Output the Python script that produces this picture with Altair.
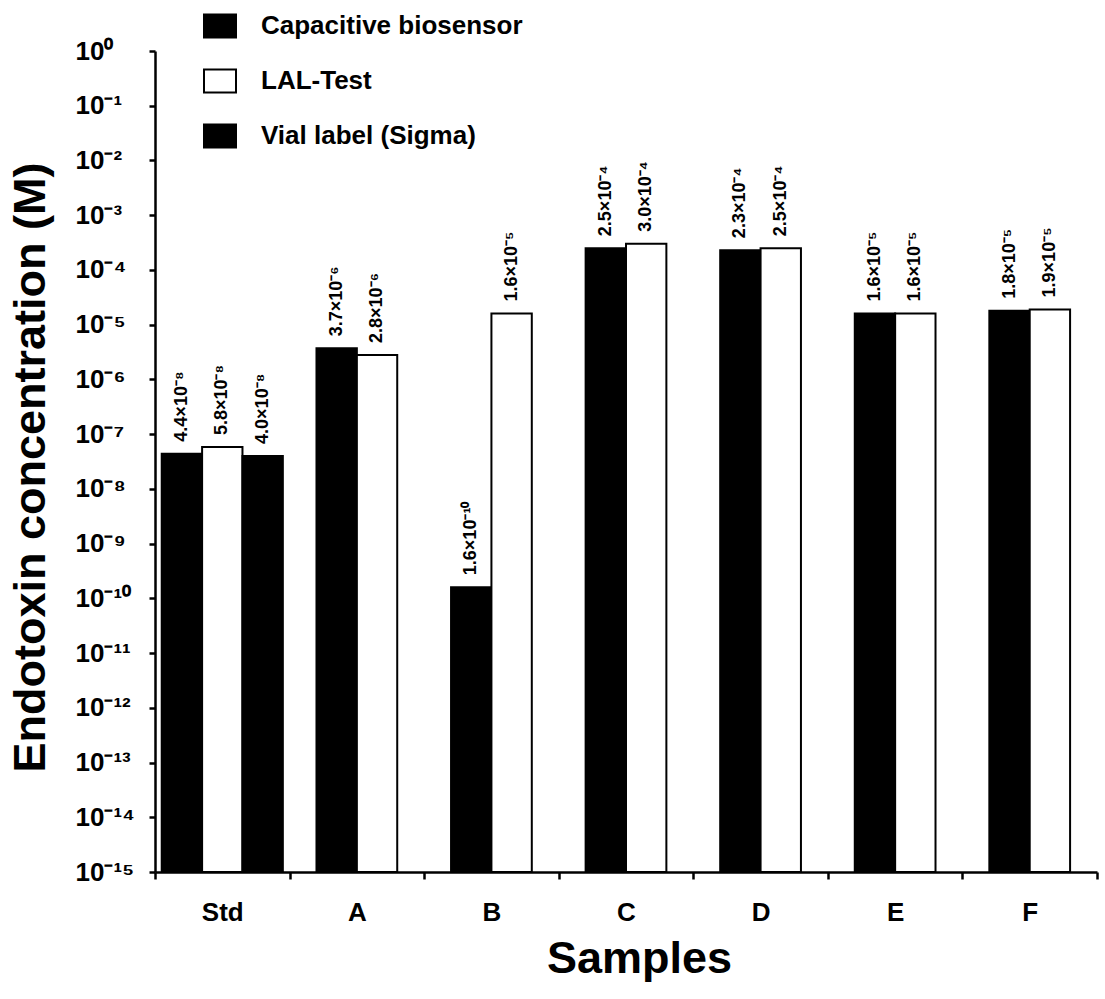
import json
import altair as alt
import pandas as pd

# ---------------- data ----------------
SAMPLES = ["Std", "A", "B", "C", "D", "E", "F"]
SERIES = ["Capacitive biosensor", "LAL-Test", "Vial label (Sigma)"]
CAPACITIVE = [4.4e-8, 3.7e-6, 1.6e-10, 2.5e-4, 2.3e-4, 1.6e-5, 1.8e-5]
LAL_TEST = [5.8e-8, 2.8e-6, 1.6e-5, 3.0e-4, 2.5e-4, 1.6e-5, 1.9e-5]
VIAL_LABEL = [4.0e-8, None, None, None, None, None, None]
SERIES_COLORS = ["black", "white", "black"]

Y_TICKS = [1e0, 1e-1, 1e-2, 1e-3, 1e-4, 1e-5, 1e-6, 1e-7, 1e-8,
           1e-9, 1e-10, 1e-11, 1e-12, 1e-13, 1e-14, 1e-15]
Y_TICK_LABELS = ["10⁰", "10⁻¹", "10⁻²", "10⁻³", "10⁻⁴", "10⁻⁵", "10⁻⁶", "10⁻⁷",
                 "10⁻⁸", "10⁻⁹", "10⁻¹⁰", "10⁻¹¹", "10⁻¹²", "10⁻¹³", "10⁻¹⁴", "10⁻¹⁵"]
Y_MIN, Y_MAX = 1e-15, 1e0

# ---------------- table ----------------
SUP = str.maketrans("0123456789-", "⁰¹²³⁴⁵⁶⁷⁸⁹⁻")


def sci_label(v):
    m, e = f"{v:.1e}".split("e")
    return f"{m}×10{str(int(e)).translate(SUP)}"


BAR_W = 0.3
rows = []
for i, s in enumerate(SAMPLES):
    present = [(name, vals[i]) for name, vals in
               zip(SERIES, [CAPACITIVE, LAL_TEST, VIAL_LABEL]) if vals[i] is not None]
    n = len(present)
    for j, (name, v) in enumerate(present):
        c = i + (j - (n - 1) / 2) * BAR_W
        rows.append(dict(sample=s, series=name, value=v, xc=c,
                         x0=c - BAR_W / 2, x1=c + BAR_W / 2,
                         label=sci_label(v), base=Y_MIN))
df = pd.DataFrame(rows)

FONT = "Liberation Sans"
W, H = 942, 821
PAD_L, PAD_T = 155, 51

x_vals = [k / 2 - 0.5 for k in range(2 * len(SAMPLES) + 1)]
x_axis = alt.Axis(
    values=x_vals,
    labelExpr=f"datum.value % 1 == 0 ? {json.dumps(SAMPLES)}[datum.value] : ''",
    tickOpacity={"condition": {"test": "datum.value % 1 == 0", "value": 0}, "value": 1},
    tickSize=7, tickWidth=2.5, tickColor="black",
    domainWidth=2.5, domainColor="black",
    labelFontSize=26, labelFont=FONT, labelFontWeight="bold", labelColor="black",
    labelPadding=20, labelBaseline="top", labelOverlap=False, labelFlush=False,
    grid=False,
    titleFontSize=45, titleFont=FONT, titleFontWeight="bold", titleColor="black",
    titleX=484, titleY=100, titleBaseline="alphabetic", titleAlign="center",
)

y_axis = alt.Axis(
    values=Y_TICKS,
    labelExpr=f"{json.dumps(Y_TICK_LABELS, ensure_ascii=False)}[round(-log(datum.value) / LN10)]",
    labelAlign="left", labelBaseline="middle", labelPadding=74,
    tickSize=6, tickWidth=2.5, tickColor="black",
    domainWidth=2.5, domainColor="black",
    labelFontSize=26, labelFont=FONT, labelFontWeight="bold", labelColor="black",
    labelOverlap=False, labelFlush=False, grid=False,
    titleFontSize=45, titleFont=FONT, titleFontWeight="bold", titleColor="black",
    titleX=-111, titleY=416, titleAngle=270, titleBaseline="alphabetic", titleAlign="center",
)

x_enc = alt.X("x0:Q", title="Samples",
              scale=alt.Scale(domain=[-0.5, len(SAMPLES) - 0.5], nice=False, zero=False),
              axis=x_axis)
y_enc = alt.Y("value:Q", title="Endotoxin concentration (M)",
              scale=alt.Scale(type="log", domain=[Y_MIN, Y_MAX], nice=False),
              axis=y_axis)

legend = alt.Legend(
    title=None, orient="none", legendX=48, legendY=-42, direction="vertical",
    symbolType="M-1,-0.72H1V0.72H-1Z", symbolSize=1024,
    symbolStrokeColor="black", symbolStrokeWidth=2, symbolOpacity=1,
    labelFontSize=26, labelFont=FONT, labelFontWeight="bold", labelColor="black",
    labelOffset=24, rowPadding=22, labelLimit=400,
)

bars = alt.Chart(df).mark_rect(stroke="black", strokeWidth=2).encode(
    x=x_enc,
    x2="x1:Q",
    y=y_enc,
    y2="base:Q",
    fill=alt.Fill("series:N", scale=alt.Scale(domain=SERIES, range=SERIES_COLORS),
                  legend=legend),
)

labels = alt.Chart(df).mark_text(
    angle=270, align="left", baseline="middle", dx=12,
    font=FONT, fontSize=18, fontWeight="bold", color="black",
).encode(
    x=alt.X("xc:Q", title="Samples",
            scale=alt.Scale(domain=[-0.5, len(SAMPLES) - 0.5], nice=False, zero=False),
            axis=x_axis),
    y=y_enc,
    text="label:N",
)

chart = alt.layer(bars, labels).properties(
    width=W, height=H,
    autosize=alt.AutoSizeParams(type="none"),
    padding={"left": PAD_L, "top": PAD_T, "right": 1105 - PAD_L - W, "bottom": 999 - PAD_T - H},
    background="white",
).configure_view(stroke=None)

chart.save("out.html", embed_options={"renderer": "svg", "actions": False})
